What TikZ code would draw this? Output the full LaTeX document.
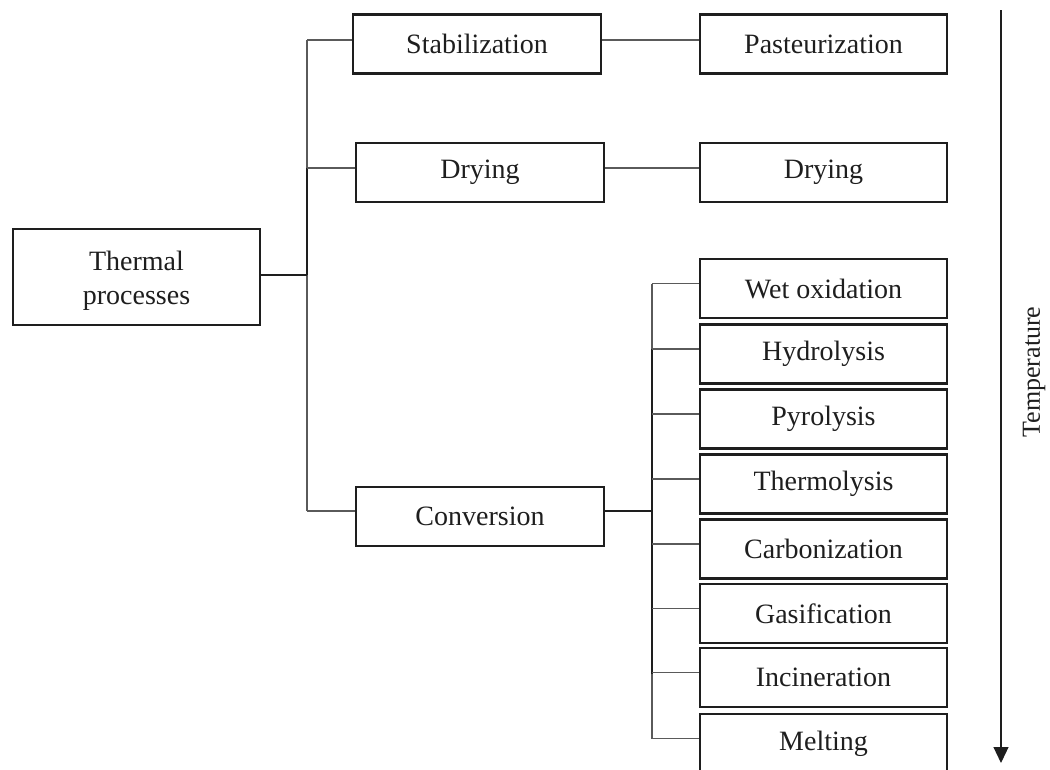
\documentclass[tikz,border=0pt]{standalone}
\usepackage{fontspec}
\setmainfont{Liberation Serif}
\usetikzlibrary{arrows.meta,calc}
\definecolor{ink}{HTML}{1E1E1E}
\definecolor{wire}{HTML}{5A5A5A}
\begin{document}
\begin{tikzpicture}[x=1pt,y=-1pt,
  box/.style={draw=ink,line width=2.2pt,text=ink,inner sep=0pt,
    minimum width=247pt,minimum height=59pt,
    font=\fontsize{28}{33}\selectfont,align=center},
  thin/.style={draw=wire,line width=1.2pt},
  thick/.style={draw=ink,line width=2pt}]
\useasboundingbox (0,0) rectangle (1050,769);
% left
\node[box,minimum height=96pt] (th) at (136.5,277) {\raisebox{-10pt}[0pt][0pt]{\begin{tabular}{@{}c@{}}Thermal\\[1.5pt]processes\end{tabular}}};
\node[box,minimum width=248pt] (stab) at (477,44) {Stabilization};
\node[box,minimum width=248pt] (dryL) at (480,172.5) {Drying};
\node[box,minimum width=248pt] (conv) at (480,516.5) {Conversion};
% right top
\node[box] (past) at (823.5,44) {Pasteurization};
\node[box] (dryR) at (823.5,172.5) {Drying};
% stack
\node[box] (wet) at (823.5,288.5) {Wet oxidation};
\node[box] (hyd) at (823.5,354) {Hydrolysis};
\node[box] (pyr) at (823.5,419) {Pyrolysis};
\node[box] (thl) at (823.5,484) {Thermolysis};
\node[box] (carb) at (823.5,549) {Carbonization};
\node[box] (gas) at (823.5,613.5) {Gasification};
\node[box] (inc) at (823.5,677.5) {Incineration};
\node[box] (melt) at (823.5,743.5) {Melting};
% trunk 1
\coordinate (t1a) at (307,40);
\coordinate (t1b) at (307,168);
\coordinate (t1c) at (307,275);
\coordinate (t1d) at (307,511);
\draw[thin] (t1a) -- (t1b);
\draw[thick] (t1b) -- (t1c);
\draw[thin] (t1c) -- (t1d);
\draw[thin] (t1a) -- ([yshift=4pt]stab.west);
\draw[thin] (t1b) -- ([yshift=4.5pt]dryL.west);
\draw[thin] (t1d) -- ([yshift=5.5pt]conv.west);
\draw[thick] (th.east |- t1c) -- (t1c);
\draw[thin] ([yshift=4pt]stab.east) -- ([yshift=4pt]past.west);
\draw[thin] ([yshift=4.5pt]dryL.east) -- ([yshift=4.5pt]dryR.west);
% trunk 2
\coordinate (c) at (652,511);
\draw[draw=ink,line width=2.6pt] ([yshift=5.5pt]conv.east) -- (c);
\coordinate (b1) at (652,283.5);
\coordinate (b2) at (652,349);
\coordinate (b7) at (652,673.5);
\coordinate (b8) at (652,739);
\draw[thin] (b1) -- (b2);
\draw[thick] (b2) -- (b7);
\draw[thin] (b7) -- (b8);
\foreach \n in {wet,hyd,pyr,thl,carb,gas,inc,melt}
  \draw[thin] ([yshift=5pt]\n.west) -- ([yshift=5pt]\n.west -| b1);
% temperature arrow
\coordinate (ta) at (1001,10);
\coordinate (tb) at (1001,763);
\draw[draw=ink,line width=1.2pt,-{Triangle[width=15pt,length=16pt]}] (ta) -- (tb);
\node[text=ink,rotate=90,font=\fontsize{26}{30}\selectfont] (temp) at (1034,372) {Temperature};
\end{tikzpicture}
\end{document}
